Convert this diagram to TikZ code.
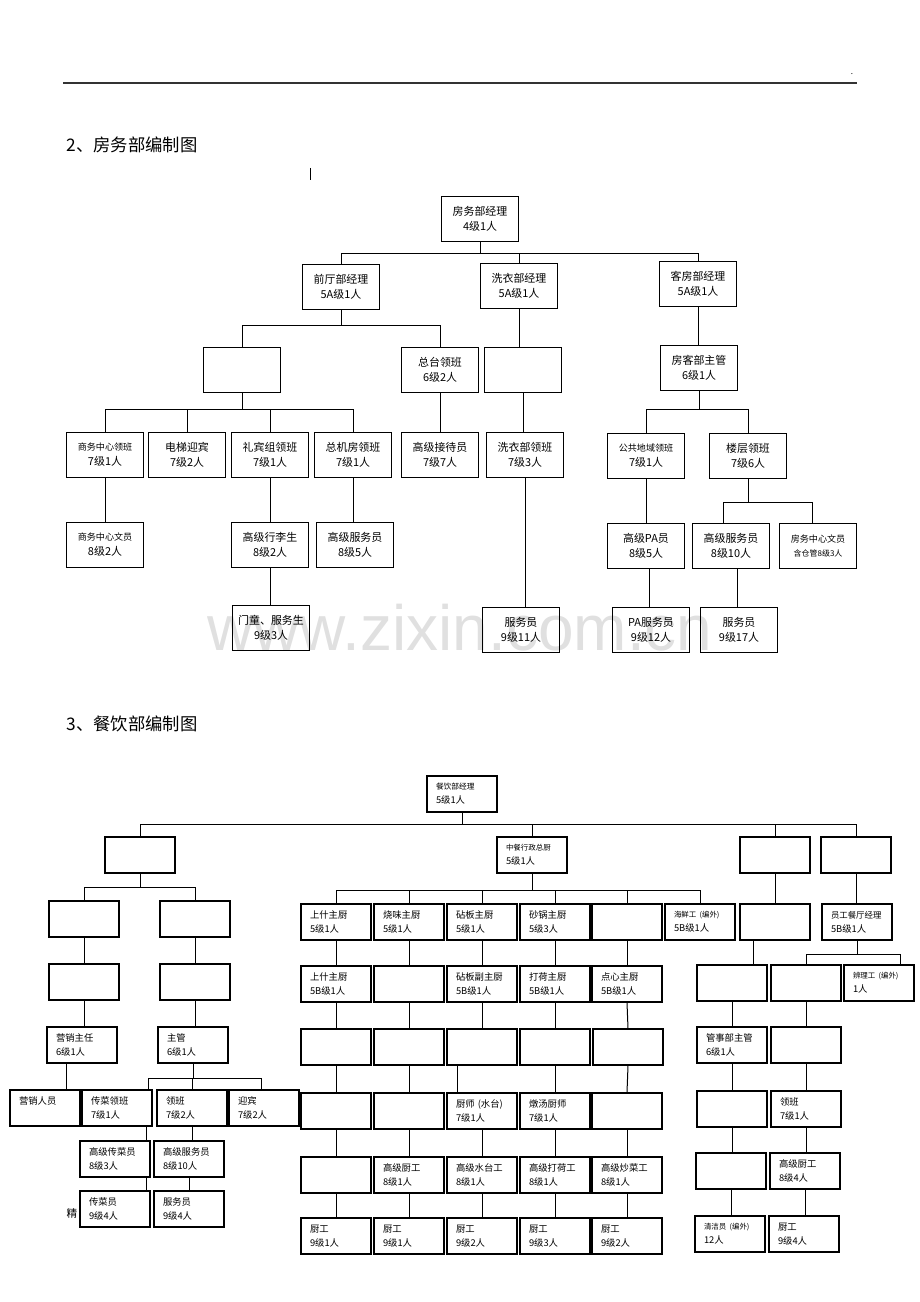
\documentclass[tikz,border=0pt]{standalone}
\usepackage{fontspec}
\setmainfont{Noto Sans CJK SC}
\newfontfamily\wmfont{Liberation Sans}

\begin{document}
\begin{tikzpicture}[x=0.75pt,y=-0.75pt,
  tbox/.style={draw,line width=0.9pt,minimum width=57.5pt,minimum height=33.5pt,inner sep=1pt,align=center,font=\fontsize{8.2}{11.2}\selectfont},
  bbox/.style={draw,line width=0.9pt,minimum width=52.5pt,minimum height=27pt,text width=39pt,inner xsep=6.75pt,inner ysep=1pt,align=left,font=\fontsize{7}{10.5}\selectfont},
  conn/.style={line width=0.75pt},
  small/.style={font=\fontsize{6.8}{11.2}\selectfont},
  tiny/.style={font=\fontsize{5.6}{10.5}\selectfont}]
   \useasboundingbox (0,0) rectangle (920,1302);
   \draw[line width=1.2pt,black!80] (63,83) -- (857,83);
   \node[font=\fontsize{6}{6}\selectfont] (dot) at (852,74) {.};
   \node[anchor=west,font=\fontsize{13}{15}\selectfont] (title1) at (62,145) {2、房务部编制图};
   \draw[line width=0.6pt] (310,168) -- (310,180);
   \node[font=\wmfont\fontsize{48}{48}\selectfont,text=black!12] (wm) at (460,628) {www.zixin.com.cn};

   \node[tbox] (fwjl) at (480,219) {房务部经理\\4级1人};
   \node[tbox] (qtjl) at (341,287) {前厅部经理\\5A级1人};
   \node[tbox] (xyjl) at (519,286) {洗衣部经理\\5A级1人};
   \node[tbox] (kfjl) at (698,284) {客房部经理\\5A级1人};
   \node[tbox] (qtkb) at (242,370) {};
   \node[tbox] (ztlb) at (440,370) {总台领班\\6级2人};
   \node[tbox] (xykb) at (523,370) {};
   \node[tbox] (kfzg) at (699,368) {房客部主管\\6级1人};
   \node[tbox,small] (swlb) at (105,455) {商务中心领班\\{\fontsize{8.2}{11.2}\selectfont 7级1人}};
   \node[tbox] (dtyb) at (187,455) {电梯迎宾\\7级2人};
   \node[tbox] (lbzlb) at (270,455) {礼宾组领班\\7级1人};
   \node[tbox] (zjflb) at (353,455) {总机房领班\\7级1人};
   \node[tbox] (gjjdy) at (440,455) {高级接待员\\7级7人};
   \node[tbox] (xylb) at (525,455) {洗衣部领班\\7级3人};
   \node[tbox,small] (ggqy) at (646,456) {公共地域领班\\{\fontsize{8.2}{11.2}\selectfont 7级1人}};
   \node[tbox] (lclb) at (748,456) {楼层领班\\7级6人};
   \node[tbox,small] (swwy) at (105,545) {商务中心文员\\{\fontsize{8.2}{11.2}\selectfont 8级2人}};
   \node[tbox] (gjxls) at (270,545) {高级行李生\\8级2人};
   \node[tbox] (gjfwy) at (355,545) {高级服务员\\8级5人};
   \node[tbox] (mtfws) at (271,628) {门童、服务生\\9级3人};
   \node[tbox] (fwy) at (521,630) {服务员\\9级11人};
   \node[tbox] (gjpa) at (646,546) {高级PA员\\8级5人};
   \node[tbox] (gjfwyb) at (731,546) {高级服务员\\8级10人};
   \node[tbox,small] (fwzx) at (818,546) {房务中心文员\\{\fontsize{6}{9}\selectfont 含仓管8级3人}};
   \node[tbox] (pafwy) at (651,630) {PA服务员\\9级12人};
   \node[tbox] (fwyb) at (739,630) {服务员\\9级17人};

   \draw[conn] (fwjl.south) -- (fwjl.south |- 0,253) -| (qtjl.north);
   \draw[conn] (fwjl.south |- 0,253) -| (xyjl.north);
   \draw[conn] (fwjl.south |- 0,253) -| (kfjl.north);
   \draw[conn] (qtjl.south) -- (qtjl.south |- 0,325) -| (qtkb.north);
   \draw[conn] (qtjl.south |- 0,325) -| (ztlb.north);
   \draw[conn] (xyjl.south) -- (xyjl.south |- xykb.north);
   \draw[conn] (kfjl.south) -- (kfjl.south |- kfzg.north);
   \draw[conn] (qtkb.south) -- (qtkb.south |- 0,409) -| (swlb.north);
   \foreach \n in {dtyb,lbzlb,zjflb}
     \draw[conn] (qtkb.south |- 0,409) -| (\n.north);
   \draw[conn] (ztlb.south) -- (ztlb.south |- gjjdy.north);
   \draw[conn] (xykb.south) -- (xykb.south |- xylb.north);
   \draw[conn] (kfzg.south) -- (kfzg.south |- 0,409) -| (ggqy.north);
   \draw[conn] (kfzg.south |- 0,409) -| (lclb.north);
   \draw[conn] (swlb.south) -- (swlb.south |- swwy.north);
   \draw[conn] (lbzlb.south) -- (lbzlb.south |- gjxls.north);
   \draw[conn] (gjxls.south) -- (gjxls.south |- mtfws.north);
   \draw[conn] (zjflb.south) -- (zjflb.south |- gjfwy.north);
   \draw[conn] (xylb.south) -- (xylb.south |- fwy.north);
   \draw[conn] (ggqy.south) -- (ggqy.south |- gjpa.north);
   \draw[conn] (gjpa.south -| 649,0) -- (pafwy.north -| 649,0);
   \draw[conn] (lclb.south) -- (lclb.south |- 0,502) -| (gjfwyb.north -| 723,0);
   \draw[conn] (lclb.south |- 0,502) -| (fwzx.north -| 812,0);
   \draw[conn] (gjfwyb.south -| 737,0) -- (fwyb.north -| 737,0);

   \node[anchor=west,font=\fontsize{13}{15}\selectfont] (title2) at (62,724) {3、餐饮部编制图};

   \node[bbox] (cyjl) at (462,794) {{\fontsize{5.8}{10.5}\selectfont 餐饮部经理}\\5级1人};
   \node[bbox] (ka) at (140,855) {};
   \node[bbox] (zczc) at (532,855) {{\fontsize{5.6}{10.5}\selectfont 中餐行政总厨}\\5级1人};
   \node[bbox] (kc) at (775,855) {};
   \node[bbox] (kd) at (856,855) {};
   \draw[conn] (cyjl.south) -- (cyjl.south |- 0,824) -| (ka.north);
   \foreach \n in {zczc,kc,kd}
     \draw[conn] (cyjl.south |- 0,824) -| (\n.north);

   \node[bbox] (ka1) at (84,919) {};
   \node[bbox] (ka2) at (195,919) {};
   \node[bbox] (ka3) at (84,982) {};
   \node[bbox] (ka4) at (195,982) {};
   \node[bbox] (yxzr) at (82,1045) {营销主任\\6级1人};
   \node[bbox] (zg) at (193,1045) {主管\\6级1人};
   \node[bbox] (yxry) at (45,1108) {营销人员\\\mbox{}};
   \node[bbox] (cclb) at (117,1108) {传菜领班\\7级1人};
   \node[bbox] (lb) at (192,1108) {领班\\7级2人};
   \node[bbox] (yb) at (264,1108) {迎宾\\7级2人};
   \node[bbox] (gjccy) at (115,1159) {高级传菜员\\8级3人};
   \node[bbox] (gjfwyc) at (189,1159) {高级服务员\\8级10人};
   \node[bbox] (ccy) at (115,1209) {传菜员\\9级4人};
   \node[bbox] (fwyc) at (189,1209) {服务员\\9级4人};
   \node[font=\fontsize{8}{10}\selectfont] (jing) at (72,1213) {精};

   \draw[conn] (ka.south) -- (ka.south |- 0,887) -| (ka1.north);
   \draw[conn] (ka.south |- 0,887) -| (ka2.north);
   \draw[conn] (ka1.south) -- (ka3.north);
   \draw[conn] (ka2.south) -- (ka4.north);
   \draw[conn] (ka3.south) -- (ka3.south |- yxzr.north);
   \draw[conn] (ka4.south) -- (ka4.south |- zg.north);
   \draw[conn] (yxzr.south -| 66,0) -- (yxry.north -| 66,0);
   \draw[conn] (zg.south) -- (zg.south |- 0,1078) -| (cclb.north -| 148,0);
   \draw[conn] (zg.south |- 0,1078) -| (lb.north);
   \draw[conn] (zg.south |- 0,1078) -| (yb.north -| 261,0);
   \draw[conn] (cclb.south -| 146,0) -- (gjccy.north -| 146,0);
   \draw[conn] (gjccy.south -| 146,0) -- (ccy.north -| 146,0);
   \draw[conn] (lb.south) -- (lb.south |- gjfwyc.north);
   \draw[conn] (gjfwyc.south) -- (gjfwyc.south |- fwyc.north);

   \node[bbox] (c1r3) at (336,922) {上什主厨\\5级1人};
   \node[bbox] (c2r3) at (409,922) {烧味主厨\\5级1人};
   \node[bbox] (c3r3) at (482,922) {砧板主厨\\5级1人};
   \node[bbox] (c4r3) at (555,922) {砂锅主厨\\5级3人};
   \node[bbox] (c5r3) at (627,922) {};
   \node[bbox] (c6r3) at (700,922) {{\fontsize{5.6}{10.5}\selectfont 海鲜工 (编外)}\\5B级1人};
   \node[bbox] (c1r4) at (336,984) {上什主厨\\5B级1人};
   \node[bbox] (c2r4) at (409,984) {};
   \node[bbox] (c3r4) at (482,984) {砧板副主厨\\5B级1人};
   \node[bbox] (c4r4) at (555,984) {打荷主厨\\5B级1人};
   \node[bbox] (c5r4) at (627,984) {点心主厨\\5B级1人};
   \foreach \c in {1,...,5}
     \node[bbox] (c\c r5) at (263+73*\c,1047) {};
   \node[bbox] (c1r6) at (336,1111) {};
   \node[bbox] (c2r6) at (409,1111) {};
   \node[bbox] (c3r6) at (482,1111) {厨师 (水台)\\7级1人};
   \node[bbox] (c4r6) at (555,1111) {燉汤厨师\\7级1人};
   \node[bbox] (c5r6) at (627,1111) {};
   \node[bbox] (c1r7) at (336,1175) {};
   \node[bbox] (c2r7) at (409,1175) {高级厨工\\8级1人};
   \node[bbox] (c3r7) at (482,1175) {高级水台工\\8级1人};
   \node[bbox] (c4r7) at (555,1175) {高级打荷工\\8级1人};
   \node[bbox] (c5r7) at (627,1175) {高级炒菜工\\8级1人};
   \node[bbox] (c1r8) at (336,1236) {厨工\\9级1人};
   \node[bbox] (c2r8) at (409,1236) {厨工\\9级1人};
   \node[bbox] (c3r8) at (482,1236) {厨工\\9级2人};
   \node[bbox] (c4r8) at (555,1236) {厨工\\9级3人};
   \node[bbox] (c5r8) at (627,1236) {厨工\\9级2人};

   \draw[conn] (zczc.south) -- (zczc.south |- 0,890) -| (c1r3.north);
   \foreach \c in {2,...,6}
     \draw[conn] (zczc.south |- 0,890) -| (c\c r3.north);
   \foreach \c in {1,...,5}
     \foreach \r/\s in {3/4,4/5,6/7,7/8}
       \draw[conn] (c\c r\r.south) -- (c\c r\s.north);
   \foreach \c in {1,2,4,5}
     \draw[conn] (c\c r5.south) -- (c\c r6.north);
   \draw[conn] (c3r5.south -| 457,0) -- (c3r6.north -| 457,0);

   \node[bbox] (kc1) at (775,922) {};
   \node[bbox] (ygct) at (857,922) {{\fontsize{6.3}{10.5}\selectfont 员工餐厅经理}\\5B级1人};
   \node[bbox] (ke1) at (732,983) {};
   \node[bbox] (ke2) at (806,983) {};
   \node[bbox] (blg) at (879,983) {{\fontsize{5.6}{10.5}\selectfont 辨理工 (编外)}\\1人};
   \node[bbox] (gsbzg) at (732,1045) {管事部主管\\6级1人};
   \node[bbox] (kf2) at (806,1045) {};
   \node[bbox] (kg1) at (732,1109) {};
   \node[bbox] (lbd) at (806,1109) {领班\\7级1人};
   \node[bbox] (kh1) at (731,1171) {};
   \node[bbox] (gjcg) at (805,1171) {高级厨工\\8级4人};
   \node[bbox] (qjy) at (730,1234) {{\fontsize{5.6}{10.5}\selectfont 清洁员 (编外)}\\12人};
   \node[bbox] (cgd) at (804,1234) {厨工\\9级4人};

   \draw[conn] (kc.south) -- (kc.south |- kc1.north);
   \draw[conn] (kd.south) -- (kd.south |- ygct.north);
   \draw[conn] (kc1.south -| 753,0) -- (ke1.north -| 753,0);
   \draw[conn] (ygct.south) -- (ygct.south |- 0,954) -| (ke2.north);
   \draw[conn] (ygct.south |- 0,954) -| (blg.north -| 900,0);
   \draw[conn] (ke1.south) -- (ke1.south |- gsbzg.north);
   \draw[conn] (ke2.south) -- (ke2.south |- kf2.north);
   \draw[conn] (gsbzg.south) -- (gsbzg.south |- kg1.north);
   \draw[conn] (kf2.south) -- (kf2.south |- lbd.north);
   \draw[conn] (kg1.south) -- (kg1.south |- kh1.north);
   \draw[conn] (lbd.south) -- (lbd.south |- gjcg.north);
   \draw[conn] (kh1.south) -- (kh1.south |- qjy.north);
   \draw[conn] (gjcg.south) -- (gjcg.south |- cgd.north);
\end{tikzpicture}
\end{document}
